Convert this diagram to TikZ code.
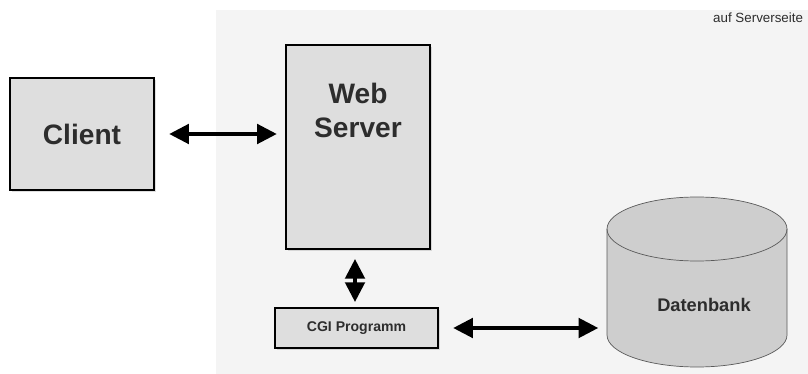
\documentclass[tikz,border=0pt]{standalone}
\usepackage{fontspec}
\setmainfont{Liberation Sans}
\usetikzlibrary{arrows.meta, calc, positioning, shadows}
\definecolor{serverbg}{RGB}{244,244,244}
\definecolor{boxfill}{RGB}{222,222,222}
\definecolor{dbfill}{RGB}{206,206,206}
\definecolor{dbline}{RGB}{90,90,90}
\definecolor{textcol}{RGB}{45,45,45}

\begin{document}
\begin{tikzpicture}[
    arr/.style={{Triangle[length=14pt, width=14pt]}-{Triangle[length=14pt, width=14pt]},
                line width=2.2pt, black},
    greybox/.style={draw=black, fill=boxfill, line width=1.8pt,
                    drop shadow={shadow xshift=1.2pt, shadow yshift=-1.2pt, opacity=0.25},
                    text=textcol, font=\bfseries, inner sep=0pt},
    bigtext/.style={text=textcol, font=\fontsize{20}{24}\selectfont\bfseries, align=center},
]

\path[use as bounding box] (0,0) rectangle (20.2,9.35);

% ════════════════════════════════════════════════════════
% 0. SERVER SIDE AREA
% ════════════════════════════════════════════════════════
\fill[serverbg] (5.4,0) rectangle (20.2,9.1);
\node[text=textcol, font=\fontsize{9.5}{11}\selectfont, anchor=east] (side) at (20.2, 8.9)
    {auf Serverseite};

% ════════════════════════════════════════════════════════
% 1. CLIENT AND WEB SERVER
% ════════════════════════════════════════════════════════
\node[greybox, minimum width=3.6cm, minimum height=2.8cm,
      font=\fontsize{20}{24}\selectfont\bfseries] (client) at (2.05, 6.0) {Client};

\node[greybox, minimum width=3.6cm, minimum height=5.1cm] (web) at (8.95, 5.675) {};
\node[bigtext] (webtxt) at ($(web.north)+(0,-1.675)$) {Web\\Server};

\draw[arr, shorten <=0.35cm, shorten >=0.2cm] (client.east) -- (web.west |- client.east);

% ════════════════════════════════════════════════════════
% 2. CGI PROGRAM
% ════════════════════════════════════════════════════════
\node[greybox, minimum width=4.075cm, minimum height=1.0cm,
      font=\fontsize{10}{12}\selectfont\bfseries] (cgi) at (8.9125, 1.15) {CGI Programm};

\draw[arr, shorten <=0.22cm, shorten >=0.12cm]
    (web.south -| 8.875,0) -- (cgi.north -| 8.875,0);

% ════════════════════════════════════════════════════════
% 3. DATABASE (cylinder)
% ════════════════════════════════════════════════════════
\coordinate (DB) at (17.425, 3.625);
\filldraw[fill=dbfill, draw=dbline, line width=0.5pt]
    ($(DB)+(-2.25,0)$) -- ($(DB)+(-2.25,-2.65)$)
    arc[start angle=180, end angle=360, x radius=2.25, y radius=0.8]
    -- ($(DB)+(2.25,0)$) arc[start angle=0, end angle=180, x radius=2.25, y radius=0.8];
\draw[dbline, line width=0.5pt]
    ($(DB)+(-2.25,0)$) arc[start angle=180, end angle=360, x radius=2.25, y radius=0.8];
\node[text=textcol, font=\fontsize{13}{15}\selectfont\bfseries] (db) at (17.6, 1.725) {Datenbank};
\coordinate (dbw) at (15.175, 1.15);

\draw[arr, shorten <=0.35cm, shorten >=0.22cm] (cgi.east) -- (dbw);

\end{tikzpicture}
\end{document}
